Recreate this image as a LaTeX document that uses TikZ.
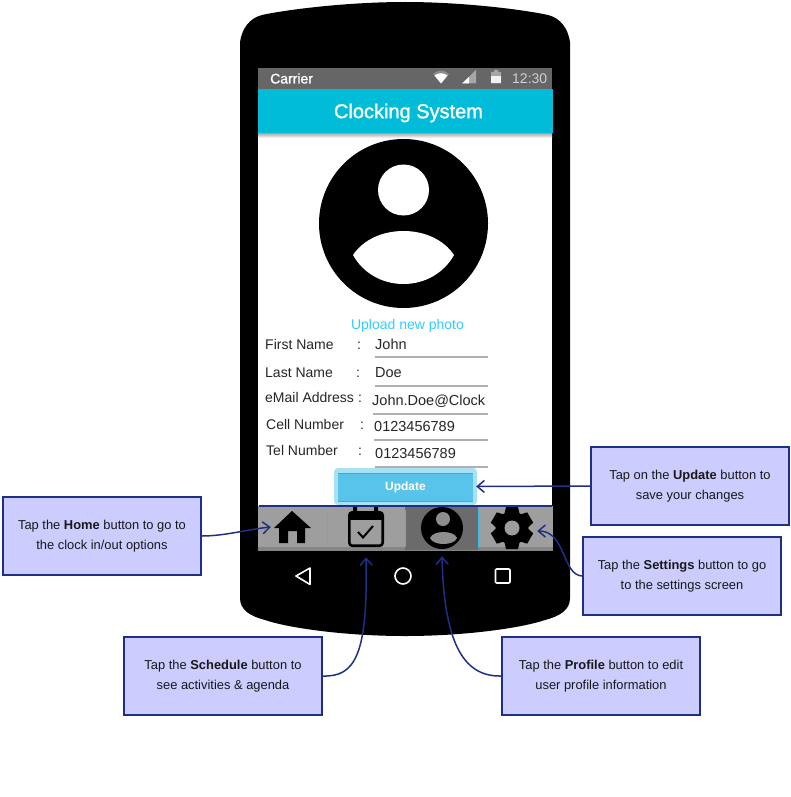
\documentclass[tikz,border=0pt]{standalone}
\usepackage{fontspec}
\setmainfont{Liberation Sans}
\newfontfamily\heavyfont[FakeBold=1.2]{Liberation Sans}
\usetikzlibrary{arrows.meta,calc}
\definecolor{boxfill}{HTML}{CCCCFF}
\definecolor{boxline}{HTML}{1F2F86}
\definecolor{teal}{HTML}{00BCD9}
\definecolor{statusgray}{HTML}{666666}
\definecolor{navgray}{HTML}{9E9E9E}
\definecolor{navdark}{HTML}{6B6B6B}
\definecolor{navsep}{HTML}{33BDE8}
\definecolor{fieldline}{HTML}{B0B0B0}
\definecolor{linkblue}{HTML}{33CCFF}
\definecolor{btnblue}{HTML}{58C4EA}
\definecolor{btnhalo}{HTML}{A8E0F5}
\tikzset{
  note/.style={draw=boxline,fill=boxfill,line width=1.8pt,minimum width=198pt,minimum height=78pt,
    align=center,inner sep=0pt,font=\fontsize{12.9}{20}\selectfont,text=black!90},
  flabel/.style={anchor=base west,inner sep=0pt,font=\fontsize{14}{16}\selectfont,text=black!85},
  fvalue/.style={anchor=base west,inner sep=0pt,font=\fontsize{14.5}{16}\selectfont,text=black!85},
  fline/.style={draw=fieldline,line width=2pt},
  callout/.style={draw=boxline,line width=1.5pt,-{Straight Barb[length=7pt,width=12pt,line width=1.5pt]}},
  navicon/.style={draw=white,line width=1.6pt,line join=round},
  anchorbox/.style={inner sep=0pt,minimum size=0pt}
}
\begin{document}
\begin{tikzpicture}[x=1pt,y=-1pt]
\useasboundingbox (0,0) rectangle (790,797);
% phone body
\fill[black] (240,42) .. controls (242,28) and (250,18) .. (262,15) .. controls (290,9) and (350,2) .. (405,2)
  .. controls (460,2) and (520,9) .. (548,15) .. controls (560,18) and (568,28) .. (570,42) -- (570,598)
  .. controls (570,610) and (560,616) .. (545,620) .. controls (525,627) and (470,636) .. (405,636)
  .. controls (340,636) and (285,627) .. (265,620) .. controls (250,616) and (240,610) .. (240,598) -- cycle;
% screen
\fill[white] (258,133) rectangle (552,506);
\fill[statusgray] (258,68) rectangle (552,89);
\shade[top color=black!35,bottom color=white] (258,133) rectangle (552,138);
\fill[teal] (258,89) rectangle (553,133);
\node[anchorbox,anchor=base west,text=white,font=\heavyfont\fontsize{14}{16}\selectfont] (carrier) at (270,83.5) {Carrier};
\node[anchorbox,anchor=base west,text=black!18,font=\fontsize{14}{16}\selectfont] (clock) at (512,83.5) {12:30};
\node[anchorbox,text=white,font=\heavyfont\fontsize{20}{24}\selectfont] (title) at (408.5,113) {Clocking System};
% status icons
\fill[black!45] (433,74) .. controls (438,69.5) and (444,69.5) .. (449,74) -- (441,83.5) -- cycle;
\fill[white] (434.5,75.5) .. controls (439,72.5) and (443,72.5) .. (447.5,75.5) -- (441,83.5) -- cycle;
\fill[black!35] (476,70) -- (476,83.5) -- (462,83.5) -- cycle;
\fill[white] (469,77) -- (469,83.5) -- (462,83.5) -- cycle;
\fill[black!35] (491,72) rectangle (501,83.5) (494,70) rectangle (498,72);
\fill[white!95!black] (491,76) rectangle (501,83.5);
% avatar
\fill[black] (403.5,223.5) circle[radius=84.5];
\fill[white] (403.5,190) circle[radius=25.5];
\fill[white] (353,255) .. controls (363,240) and (382,231) .. (403.5,231) .. controls (425,231) and (444,240) .. (454,255)
  .. controls (444,273) and (425,284) .. (403.5,284) .. controls (382,284) and (363,273) .. (353,255) -- cycle;
\node[anchorbox,text=linkblue,font=\fontsize{14}{16}\selectfont] (upload) at (407.5,326) {Upload new photo};
% form
\node[flabel] (l1) at (265,349) {First Name};
\node[flabel] (c1) at (357,349) {:};
\node[fvalue] (v1) at (375,349) {John};
\draw[fline] (375,357) -- (488,357);
\node[flabel] (l2) at (265,377) {Last Name};
\node[flabel] (c2) at (356,377) {:};
\node[fvalue] (v2) at (375,377) {Doe};
\draw[fline] (375,385.5) -- (488,385.5);
\node[flabel,font=\fontsize{14}{16}\selectfont] (l3) at (265,402) {eMail Address};
\node[flabel] (c3) at (358,402) {:};
\begin{scope}
\clip (370,390) rectangle (488.5,412);
\node[fvalue] (v3) at (372,405) {John.Doe@Clock};
\end{scope}
\draw[fline] (373,413.5) -- (488,413.5);
\node[flabel] (l4) at (266,429) {Cell Number};
\node[flabel] (c4) at (360,429) {:};
\node[fvalue] (v4) at (374,431) {0123456789};
\draw[fline] (374,439.5) -- (488,439.5);
\node[flabel] (l5) at (266,455) {Tel Number};
\node[flabel] (c5) at (358,455) {:};
\node[fvalue] (v5) at (375,458) {0123456789};
\draw[fline] (375,467) -- (488,467);
% update button
\fill[btnhalo,rounded corners=4pt] (334,468) rectangle (477,505);
\fill[black!15!btnblue] (338,472.5) rectangle (473,502);
\fill[btnblue] (338,473.5) rectangle (473,501);
\node[anchorbox,text=white,font=\bfseries\fontsize{12}{14}\selectfont] (update) at (405.5,487) {Update};
\node[anchorbox,minimum width=143pt,minimum height=37pt] (updatehalo) at (405.5,486.5) {};
% nav bar
\fill[navgray] (258,506) rectangle (553,551);
\fill[black!48] (258,547) rectangle (553,551);
\fill[navdark] (405,506) rectangle (478,550);
\draw[navsep,line width=0.9pt] (327,510) -- (327,547) (405,510) -- (405,547) (478,510) -- (478,547);
\draw[boxline,line width=1.2pt] (259,506) -- (552,506);
% home icon
\fill[black] (292,511) -- (311,528) -- (305,528) -- (305,543) -- (297,543) -- (297,531) -- (288,531) -- (288,543) -- (279,543) -- (279,528) -- (274,528) -- cycle;
\node[anchorbox,minimum width=42pt,minimum height=32pt] (homeicon) at (292,527) {};
% calendar icon
\draw[black,line width=2.6pt,rounded corners=3pt] (349.3,512.3) rectangle (382.7,545.7);
\fill[black] (349,512) rectangle (383,520);
\fill[black] (353,507) rectangle (357,512) (374,507) rectangle (378,512);
\draw[black,line width=2pt] (358,532) -- (363,537.5) -- (373,526);
\node[anchorbox,minimum width=38pt,minimum height=40pt] (calicon) at (366,527) {};
% profile icon
\fill[black] (442,528) circle[radius=21];
\fill[navgray!90!black] (443,519) circle[radius=7];
\fill[navgray!90!black] (430,538) .. controls (433,530) and (454,530) .. (457,538) .. controls (454,546) and (433,546) .. (430,538) -- cycle;
\node[anchorbox,minimum width=42pt,minimum height=42pt] (proficon) at (442,528) {};
% gear icon
\foreach \a in {0,60,120,180,240,300}{
  \fill[black,rotate around={\a:(512,528)}] (506,507) -- (518,507) -- (520,516) -- (504,516) -- cycle;
}
\fill[black] (512,528) circle[radius=16.5];
\fill[navgray] (512,528) circle[radius=7.5];
\node[anchorbox,minimum width=44pt,minimum height=44pt] (gearicon) at (513,528) {};
% android buttons
\draw[navicon] (310,568) -- (296,576) -- (310,584.5) -- cycle;
\draw[navicon] (403,576) circle[radius=8];
\draw[navicon,rounded corners=1pt] (495.5,569) rectangle (510,583);
% notes
\node[note] (home) at (102,536) {Tap the \textbf{Home} button to go to\\the clock in/out options};
\node[note] (sched) at (223,676) {Tap the \textbf{Schedule} button to\\see activities \& agenda};
\node[note] (prof) at (601,676) {Tap the \textbf{Profile} button to edit\\user profile information};
\node[note] (sett) at (682,576) {Tap the \textbf{Settings} button to go\\to the settings screen};
\node[note] (upd) at (690,486) {Tap on the \textbf{Update} button to\\save your changes};
% connectors
\draw[callout] (home.east) .. controls (225,536) and (250,529) .. (homeicon.west);
\draw[callout] (upd.west) -- ($(updatehalo.east)+(-1,0)$);
\draw[callout] (sett.west) .. controls (562,575) and (566,531) .. ($(gearicon.east)+(2,3)$);
\draw[callout] (sched.east) .. controls (355,677) and (368,655) .. ($(calicon.south)+(0,10)$);
\draw[callout] (prof.west) .. controls (462,677) and (444,640) .. ($(proficon.south)+(0,7)$);
\end{tikzpicture}
\end{document}
